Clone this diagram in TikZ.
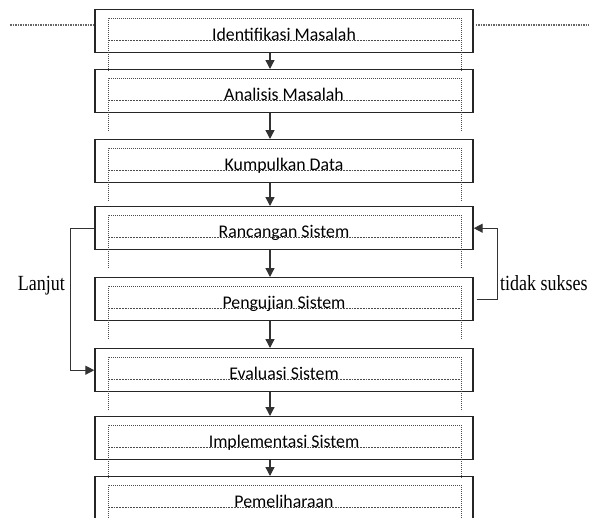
\documentclass[tikz,border=0pt]{standalone}
\usepackage{fontspec}
\setmainfont{Liberation Serif}
\newfontfamily\boxfont{Carlito}
\usetikzlibrary{arrows.meta}
\tikzset{
  stepbox/.style={draw=black!85, line width=1.4pt, minimum width=378pt, minimum height=43pt, inner sep=0pt},
  guide/.style={draw=black!70, densely dotted, line width=1pt},
  wave/.style={draw=black!70, densely dotted, line width=1.8pt},
  topline/.style={draw=black!60, densely dotted, line width=1.5pt},
  flow/.style={draw=black!80, line width=1.3pt, -{Triangle[length=9pt,width=9pt]}},
  steptext/.style={font=\boxfont\fontsize{17.8}{20}\selectfont, text=black, anchor=base, inner sep=0pt},
  sidetext/.style={font=\fontsize{18}{20}\selectfont, inner sep=0pt}
}
\begin{document}
\begin{tikzpicture}[x=1pt,y=-1pt]
\useasboundingbox (0,0) rectangle (589,517);
\fill[white] (0,0) rectangle (589,517);
\clip (0,0) rectangle (589,517);
\coordinate (ax) at (270,0);
\foreach \i/\t/\txt in {1/9/Identifikasi Masalah, 2/69/Analisis Masalah, 3/139/Kumpulkan Data, 4/206/Rancangan Sistem, 5/277/Pengujian Sistem, 6/348/Evaluasi Sistem, 7/416/Implementasi Sistem, 8/476/Pemeliharaan}
{
  \node[stepbox, anchor=north] (b\i) at (284,\t) {};
  \draw[guide] (108,\t+62) -- (108,\t+9) -- (461,\t+9) -- (461,\t+62);
  \draw[wave] (108,\t+31.5) -- (461,\t+31.5);
  \node[steptext] (x\i) at (284,\t+31) {\txt};
}
\foreach \i/\j in {1/2,2/3,3/4,4/5,5/6,6/7,7/8}
  \draw[flow] (b\i.south -| ax) -- (b\j.north -| ax);
\coordinate (tl) at (10,25);
\coordinate (tr) at (589,25);
\draw[topline] (tl) -- (tl -| b1.west);
\draw[topline] ([xshift=2pt]b1.east |- tr) -- (tr);
\draw[flow] (b4.west) -- ++(-24,0) |- (b6.west);
\draw[flow] ([xshift=3pt]b5.east) -- ++(21,0) |- (b4.east);
\node[sidetext, anchor=base east] (lj) at (65,290) {\scalebox{1}[1.2]{Lanjut}};
\node[sidetext, anchor=base west] (ts) at (500,290) {\scalebox{1}[1.2]{tidak sukses}};
\end{tikzpicture}
\end{document}
